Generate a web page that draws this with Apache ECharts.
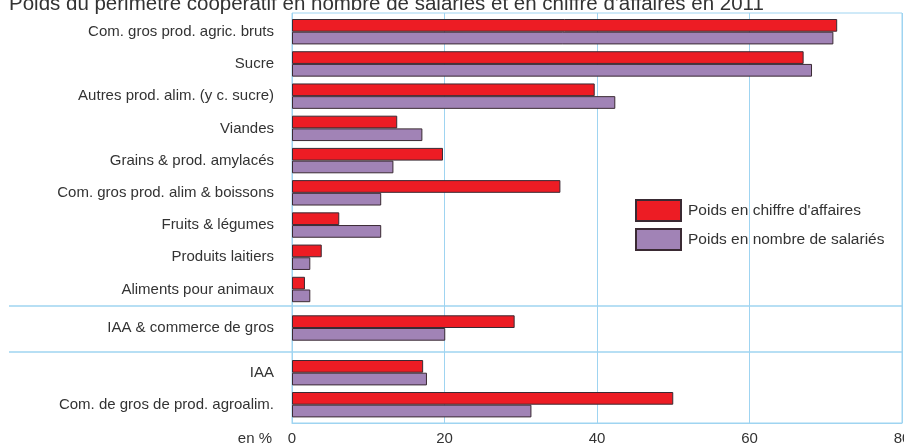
<!DOCTYPE html>
<html>
<head>
<meta charset="utf-8">
<script src="https://cdn.jsdelivr.net/npm/echarts@6/dist/echarts.min.js"></script>
<style>
  html, body { margin: 0; padding: 0; background: #fff; }
  #chart { width: 904px; height: 446px; }
</style>
</head>
<body>
<div id="chart"></div>
<script>
// données (en %)
const seriesNames = ['Poids en chiffre d\'affaires', 'Poids en nombre de salariés']

const categoriesDetail = [
  'Com. gros prod. agric. bruts',
  'Sucre',
  'Autres prod. alim. (y c. sucre)',
  'Viandes',
  'Grains & prod. amylacés',
  'Com. gros prod. alim & boissons',
  'Fruits & légumes',
  'Produits laitiers',
  'Aliments pour animaux'
]
const caDetail = [71.5, 67.1, 39.7, 13.8, 19.8, 35.2, 6.2, 3.9, 1.7]
const salDetail = [71.0, 68.2, 42.4, 17.1, 13.3, 11.7, 11.7, 2.4, 2.4]

const categoriesTotal = ['IAA & commerce de gros']
const caTotal = [29.2]
const salTotal = [20.1]

const categoriesSplit = ['IAA', 'Com. de gros de prod. agroalim.']
const caSplit = [17.2, 50.0]
const salSplit = [17.7, 31.4]

const xTicks = [0, 20, 40, 60, 80]

const RED = '#ed1c24'
const PURPLE = '#a183b6'
const BORDER = '#3a2a33'
const BLUE = '#9fd4f1'
const TEXT = '#333333'
const FONT = '"Liberation Sans", Arial, sans-serif'

const chart = echarts.init(document.getElementById('chart'))

// grilles : 0 = fond (quadrillage), 1..3 = blocs de barres
const grids = [
  { left: 292, right: 2, top: 13, bottom: 23, show: true, borderColor: BLUE, borderWidth: 1, outerBoundsMode: 'none' },
  { left: 292, right: 2, top: 15.6, height: 290, outerBoundsMode: 'none' },
  { left: 292, right: 2, top: 306, height: 44, outerBoundsMode: 'none' },
  { left: 292, right: 2, top: 356.7, height: 64, outerBoundsMode: 'none' }
]

const xAxes = grids.map((g, i) => ({
  gridIndex: i,
  type: 'value',
  min: xTicks[0],
  max: xTicks[xTicks.length - 1],
  interval: 20,
  show: i === 0,
  axisLine: { show: true, lineStyle: { color: BLUE } },
  axisTick: { show: false },
  splitLine: { show: i === 0, lineStyle: { color: BLUE, width: 1 } },
  axisLabel: { fontSize: 15, color: TEXT, fontFamily: FONT, margin: 8 },
  name: i === 0 ? 'en %' : '',
  nameLocation: 'start',
  nameGap: 20,
  nameTextStyle: { fontSize: 15, color: TEXT, fontFamily: FONT, verticalAlign: 'top', padding: [8, 0, 0, 0] }
}))

function catAxis(idx, data) {
  return {
    gridIndex: idx,
    type: 'category',
    inverse: true,
    data: data,
    axisLine: { show: false },
    axisTick: { show: false },
    axisLabel: { fontSize: 15, color: TEXT, fontFamily: FONT, margin: 18 }
  }
}

const yAxes = [
  { gridIndex: 0, type: 'value', show: false },
  catAxis(1, categoriesDetail),
  catAxis(2, categoriesTotal),
  catAxis(3, categoriesSplit)
]

function bars(idx, ca, sal) {
  return [
    {
      name: seriesNames[0], type: 'bar', xAxisIndex: idx, yAxisIndex: idx,
      data: ca, barWidth: 12.7, barGap: '0%',
      itemStyle: { color: RED, borderColor: BORDER, borderWidth: 1 }
    },
    {
      name: seriesNames[1], type: 'bar', xAxisIndex: idx, yAxisIndex: idx,
      data: sal, barWidth: 12.7, barGap: '0%',
      itemStyle: { color: PURPLE, borderColor: BORDER, borderWidth: 1 }
    }
  ]
}

chart.setOption({
  animation: false,
  title: {
    text: 'Poids du périmètre coopératif en nombre de salariés et en chiffre d\'affaires en 2011',
    left: 4,
    top: -11,
    textStyle: { fontSize: 20.5, fontWeight: 'normal', color: TEXT, fontFamily: FONT }
  },
  legend: {
    orient: 'vertical',
    left: 630,
    top: 194,
    icon: 'rect',
    itemWidth: 45,
    itemHeight: 21,
    itemGap: 6,
    data: seriesNames,
    itemStyle: { borderColor: BORDER, borderWidth: 2 },
    textStyle: { fontSize: 15.5, color: TEXT, fontFamily: FONT, padding: [0, 0, 0, 2] }
  },
  grid: grids,
  xAxis: xAxes,
  yAxis: yAxes,
  series: [].concat(
    bars(1, caDetail, salDetail),
    bars(2, caTotal, salTotal),
    bars(3, caSplit, salSplit)
  ),
  graphic: [
    { type: 'line', shape: { x1: 9, y1: 306, x2: 902, y2: 306 }, style: { stroke: BLUE, lineWidth: 1.5 } },
    { type: 'line', shape: { x1: 9, y1: 352, x2: 902, y2: 352 }, style: { stroke: BLUE, lineWidth: 1.5 } }
  ]
})
</script>
</body>
</html>
